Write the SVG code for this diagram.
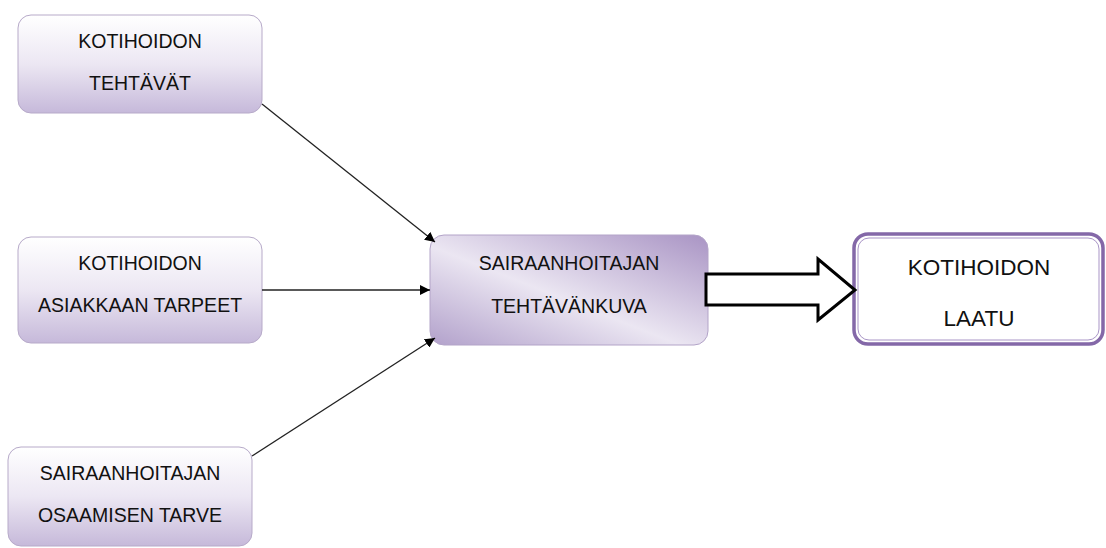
<svg xmlns="http://www.w3.org/2000/svg" width="1106" height="548" viewBox="0 0 1106 548">
<defs>
<linearGradient id="g1" x1="0" y1="0" x2="0" y2="1">
<stop offset="0" stop-color="#ffffff"/>
<stop offset="0.5" stop-color="#ece7f3"/>
<stop offset="1" stop-color="#c6b9da"/>
</linearGradient>
<linearGradient id="g2" x1="0" y1="1" x2="1" y2="0">
<stop offset="0" stop-color="#b2a1cb"/>
<stop offset="0.45" stop-color="#ebe6f2"/>
<stop offset="1" stop-color="#a994c4"/>
</linearGradient>
<marker id="ah" viewBox="0 0 10 10" refX="10" refY="5" markerWidth="10" markerHeight="10" markerUnits="userSpaceOnUse" orient="auto">
<path d="M0,0 L10,5 L0,10 z" fill="#000"/>
</marker>
</defs>
<style>
.box{fill:url(#g1);stroke:#b7aac9;stroke-width:1}
.t{font-family:"Liberation Sans",Arial,sans-serif;font-size:19.5px;fill:#111;text-anchor:middle}
.tl{font-size:22.5px}
.c{stroke:#222;stroke-width:1.3;fill:none;marker-end:url(#ah)}
</style>
<rect width="1106" height="548" fill="#fff"/>
<g id="n1">
<rect class="box" x="18" y="15" width="244" height="98" rx="13"/>
<text class="t" x="140" y="48">KOTIHOIDON</text>
<text class="t" x="140" y="90">TEHTÄVÄT</text>
</g>
<g id="n2">
<rect class="box" x="18" y="237" width="244" height="106" rx="13"/>
<text class="t" x="140" y="270">KOTIHOIDON</text>
<text class="t" x="140" y="312">ASIAKKAAN TARPEET</text>
</g>
<g id="n3">
<rect class="box" x="8" y="447" width="244" height="99" rx="13"/>
<text class="t" x="130" y="480">SAIRAANHOITAJAN</text>
<text class="t" x="130" y="522">OSAAMISEN TARVE</text>
</g>
<g id="n4">
<rect x="430" y="235" width="278" height="110" rx="14" fill="url(#g2)" stroke="#b3a4c8" stroke-width="1"/>
<text class="t" x="569" y="270">SAIRAANHOITAJAN</text>
<text class="t" x="569" y="313">TEHTÄVÄNKUVA</text>
</g>
<g id="n5">
<rect x="854" y="234" width="249" height="110" rx="14" fill="#fff" stroke="#8468a8" stroke-width="3.5"/>
<rect x="858" y="238" width="241" height="102" rx="11" fill="none" stroke="#a995c6" stroke-width="1"/>
<text class="t tl" x="979" y="275">KOTIHOIDON</text>
<text class="t tl" x="979" y="326">LAATU</text>
</g>
<g id="connectors">
<line class="c" x1="262" y1="104" x2="435" y2="242"/>
<line class="c" x1="262" y1="290" x2="430" y2="290"/>
<line class="c" x1="252" y1="456" x2="435" y2="338"/>
<path d="M706,274 L818,274 L818,259 L855,290 L818,320 L818,305 L706,305 Z" fill="#fff" stroke="#000" stroke-width="3" stroke-linejoin="miter"/>
</g>
</svg>
